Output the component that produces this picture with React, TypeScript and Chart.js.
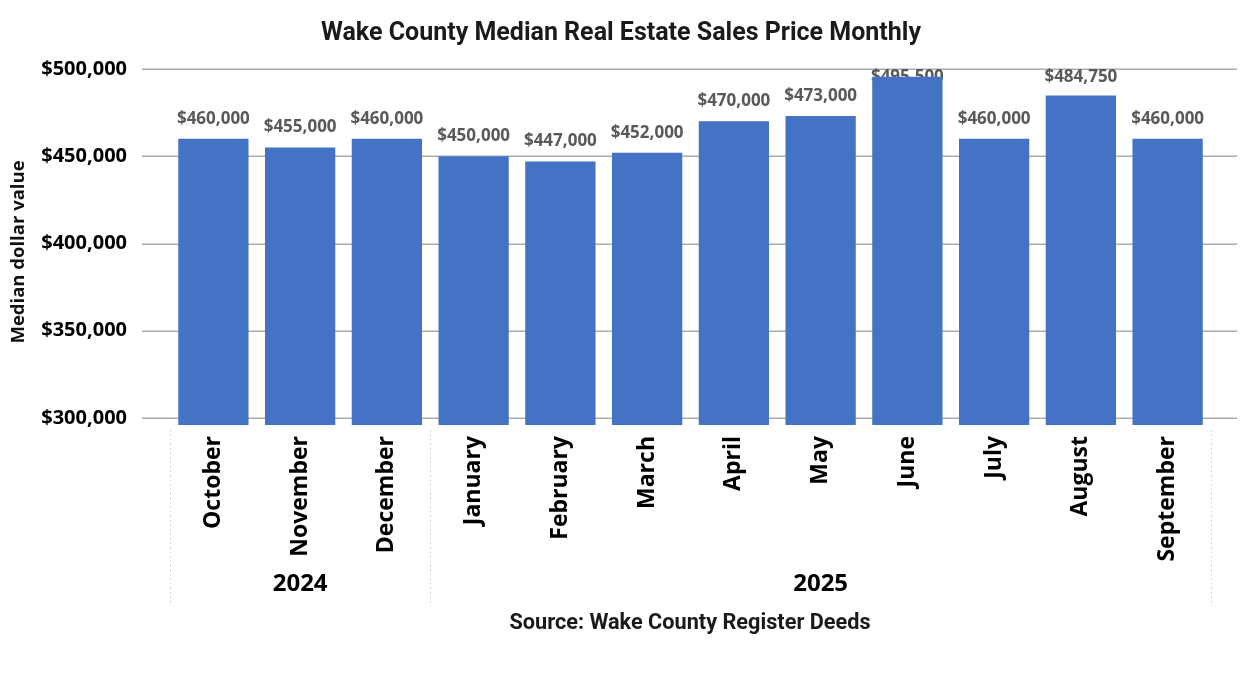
import React, { useEffect, useRef } from "react";
import { Chart, registerables } from "chart.js";

Chart.register(...registerables);

const months = ["October", "November", "December", "January", "February", "March", "April", "May", "June", "July", "August", "September"];
const values = [460000, 455000, 460000, 450000, 447000, 452000, 470000, 473000, 495500, 460000, 484750, 460000];
const yearGroups = [
  { label: "2024", start: 0, end: 2 },
  { label: "2025", start: 3, end: 11 },
];
const yTicks = [300000, 350000, 400000, 450000, 500000];
const titleText = "Wake County Median Real Estate Sales Price Monthly";
const yTitleText = "Median dollar value";
const sourceText = "Source: Wake County Register Deeds";

const fmt = (v: number) => "$" + v.toLocaleString("en-US");

const BODY_FONT = "'Open Sans', 'Noto Sans', sans-serif";
const DIN_FONT = "Roboto, 'Noto Sans', sans-serif";

const decorPlugin = {
  id: "decor",
  beforeDatasetsDraw(chart: any) {
    const ctx = chart.ctx;
    const y = chart.scales.y;
    const area = chart.chartArea;
    ctx.save();
    // gridlines
    ctx.strokeStyle = "#ababab";
    ctx.lineWidth = 1.5;
    yTicks.forEach((t) => {
      const py = Math.round(y.getPixelForValue(t)) + 0.25;
      ctx.beginPath();
      ctx.moveTo(142, py);
      ctx.lineTo(1237, py);
      ctx.stroke();
    });
    // data labels (behind bars)
    const meta = chart.getDatasetMeta(0);
    ctx.fillStyle = "#595959";
    ctx.font = `bold 17px ${BODY_FONT}`;
    ctx.textAlign = "center";
    ctx.textBaseline = "middle";
    meta.data.forEach((bar: any, i: number) => {
      const cy = Math.max(bar.y - 20, area.top + 8);
      ctx.fillText(fmt(values[i]), bar.x, cy);
    });
    ctx.restore();
  },
  afterDraw(chart: any) {
    const ctx = chart.ctx;
    const x = chart.scales.x;
    const area = chart.chartArea;
    ctx.save();
    // title
    ctx.fillStyle = "#1a1a1a";
    ctx.textAlign = "center";
    ctx.textBaseline = "middle";
    ctx.font = `bold 25px ${DIN_FONT}`;
    ctx.fillText(titleText, 621, 34);
    // y title
    ctx.save();
    ctx.translate(19, 252);
    ctx.rotate(-Math.PI / 2);
    ctx.font = `bold 18.5px ${BODY_FONT}`;
    ctx.fillStyle = "#111";
    ctx.fillText(yTitleText, 0, 0);
    ctx.restore();
    // separators + year labels
    const half = (x.getPixelForValue(1) - x.getPixelForValue(0)) / 2;
    ctx.strokeStyle = "#c8c8c8";
    ctx.lineWidth = 1;
    ctx.setLineDash([1.5, 3]);
    const bounds: number[] = [];
    yearGroups.forEach((g, gi) => {
      const l = x.getPixelForValue(g.start) - half;
      const r = x.getPixelForValue(g.end) + half;
      if (gi === 0) bounds.push(l);
      bounds.push(r);
      ctx.fillStyle = "#000";
      ctx.font = `bold 24px ${BODY_FONT}`;
      ctx.fillText(g.label, (l + r) / 2, 584);
    });
    bounds.forEach((bx) => {
      const px = Math.round(bx) + 0.5;
      ctx.beginPath();
      ctx.moveTo(px, area.bottom + 5);
      ctx.lineTo(px, 606);
      ctx.stroke();
    });
    ctx.setLineDash([]);
    // source
    ctx.fillStyle = "#1a1a1a";
    ctx.font = `bold 21.7px ${DIN_FONT}`;
    ctx.fillText(sourceText, 690, 624);
    ctx.restore();
  },
};

export default function App() {
  const ref = useRef<HTMLCanvasElement | null>(null);
  useEffect(() => {
    if (!ref.current) return;
    const chart = new Chart(ref.current, {
      type: "bar",
      data: {
        labels: months,
        datasets: [
          {
            data: values,
            backgroundColor: "#4472C4",
            borderWidth: 0,
            barPercentage: 0.81,
            categoryPercentage: 1,
          },
        ],
      },
      options: {
        responsive: false,
        animation: false,
        layout: { padding: { top: 69, right: 29, left: 0, bottom: 0 } },
        plugins: {
          legend: { display: false },
          title: { display: false },
          tooltip: { enabled: false },
        },
        scales: {
          x: {
            grid: { display: false, drawTicks: false },
            border: { display: false },
            ticks: {
              minRotation: 90,
              maxRotation: 90,
              autoSkip: false,
              padding: 11,
              color: "#000",
              font: { family: BODY_FONT, size: 23, weight: "bold" },
            },
            afterFit(scale: any) {
              scale.height = 256;
            },
          },
          y: {
            min: 296000,
            max: 500000,
            grid: { display: false, drawTicks: false },
            border: { display: false },
            afterBuildTicks(scale: any) {
              scale.ticks = yTicks.map((v) => ({ value: v }));
            },
            ticks: {
              padding: 43,
              color: "#000",
              font: { family: BODY_FONT, size: 20, weight: "bold" },
              callback: (v: any) => fmt(Number(v)),
            },
            afterFit(scale: any) {
              scale.width = 170;
            },
          },
        },
      },
      plugins: [decorPlugin],
    });
    return () => chart.destroy();
  }, []);
  return (
    <div style={{ position: "fixed", left: 0, top: 0, width: 1240, height: 681, background: "#fff" }}>
      <canvas ref={ref} width={1240} height={681} style={{ display: "block" }} />
    </div>
  );
}
